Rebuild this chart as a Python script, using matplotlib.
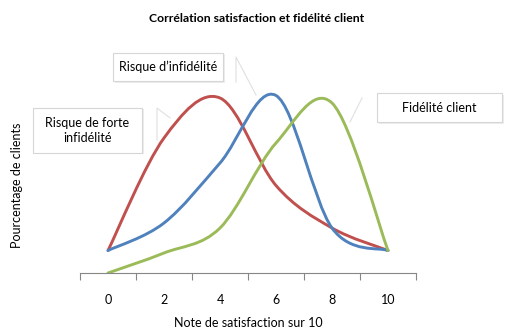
import numpy as np
import matplotlib
matplotlib.use("Agg")
from matplotlib import pyplot as plt
from matplotlib.path import Path
from matplotlib.patches import PathPatch, Rectangle
from matplotlib.lines import Line2D

plt.rcParams["font.family"] = ["Lato", "DejaVu Sans"]

# data (arbitrary % scale)
notes = [0, 2, 4, 6, 8, 10]
tickLabels = ["0", "2", "4", "6", "8", "10"]
risqueForte = [4.5, 27, 35, 17.5, 9, 4.5]
risque = [4.5, 10, 22, 35.5, 9, 4.5]
fidelite = [0, 4, 9, 26, 34, 4.5]

seriesColors = ["#C0504D", "#4F81BD", "#9BBB59"]

W, H = 511, 336


def smoothPath(xs, ys):
    # excel-like smoothed line: cubic bezier through every point
    pts = np.column_stack([xs, ys]).astype(float)
    n = len(pts)
    verts = [tuple(pts[0])]
    codes = [Path.MOVETO]
    for i in range(n - 1):
        p0 = pts[i - 1] if i > 0 else pts[i]
        p1 = pts[i]
        p2 = pts[i + 1]
        p3 = pts[i + 2] if i + 2 < n else pts[i + 1]
        c1 = p1 + (p2 - p0) / 6
        c2 = p2 - (p3 - p1) / 6
        verts += [tuple(c1), tuple(c2), tuple(p2)]
        codes += [Path.CURVE4] * 3
    return Path(verts, codes)


def callout(fig, x0, y0, x1, y1, text):
    # pixel box -> figure coords, with a light drop shadow
    shadow = Rectangle((x0 / W + 1.5 / W, 1 - y1 / H - 1.5 / H),
                       (x1 - x0) / W, (y1 - y0) / H,
                       transform=fig.transFigure, facecolor="#EDEDED",
                       edgecolor="none", zorder=5)
    box = Rectangle((x0 / W, 1 - y1 / H), (x1 - x0) / W, (y1 - y0) / H,
                    transform=fig.transFigure, facecolor="white",
                    edgecolor="#D6D6D6", lw=0.8, zorder=6)
    fig.add_artist(shadow)
    fig.add_artist(box)
    fig.text((x0 + x1) / 2 / W, 1 - (y0 + y1) / 2 / H, text, ha="center",
             va="center", fontsize=9, linespacing=1.25, zorder=7)


fig = plt.figure(figsize=(W / 100, H / 100), dpi=100)
ax = fig.add_axes([80 / W, 1 - 273 / H, 336 / W, 213 / H])
ax.patch.set_alpha(0)

# faint callout tails, behind the curves
tails = [
    ([236, 236, 256], [82, 57, 95]),
    ([157, 157, 170], [140, 108, 118]),
    ([350, 362], [122, 98]),
]
for xs, ys in tails:
    fig.add_artist(Line2D([x / W for x in xs], [1 - y / H for y in ys],
                          color="#E0E0E0", lw=0.8, zorder=-1))

for values, color in zip([risqueForte, risque, fidelite], seriesColors):
    patch = PathPatch(smoothPath(notes, values), facecolor="none",
                      edgecolor=color, lw=2.1, capstyle="round",
                      joinstyle="round")
    ax.add_patch(patch)

ax.set_xlim(-1, 11)
ax.set_ylim(0, 42.6)
for side in ["left", "right", "top"]:
    ax.spines[side].set_visible(False)
ax.spines["bottom"].set_color("#868686")
ax.spines["bottom"].set_linewidth(0.8)
ax.set_yticks([])

# category ticks between labels, labels centred on categories
ax.set_xticks(notes)
ax.set_xticklabels(tickLabels, fontsize=9)
ax.tick_params(axis="x", which="major", length=0, pad=15)
ax.set_xticks([-1, 1, 3, 5, 7, 9, 11], minor=True)
ax.tick_params(axis="x", which="minor", length=5, color="#868686", width=0.8)

ax.set_xlabel("Note de satisfaction sur 10", fontsize=9, labelpad=8)
fig.text(17 / W, 1 - 185 / H, "Pourcentage de clients", rotation=90,
         ha="center", va="center", fontsize=9)
fig.text(257 / W, 1 - 18 / H, "Corrélation satisfaction et fidélité client",
         ha="center", va="center", fontsize=8.8, fontweight="bold")

callout(fig, 113, 53, 223, 81, "Risque d\u2019infidélité")
callout(fig, 33, 108, 142, 153, "Risque de forte\ninfidélité")
callout(fig, 377, 93, 502, 122, "Fidélité client")

plt.savefig("out.png", dpi=100)
